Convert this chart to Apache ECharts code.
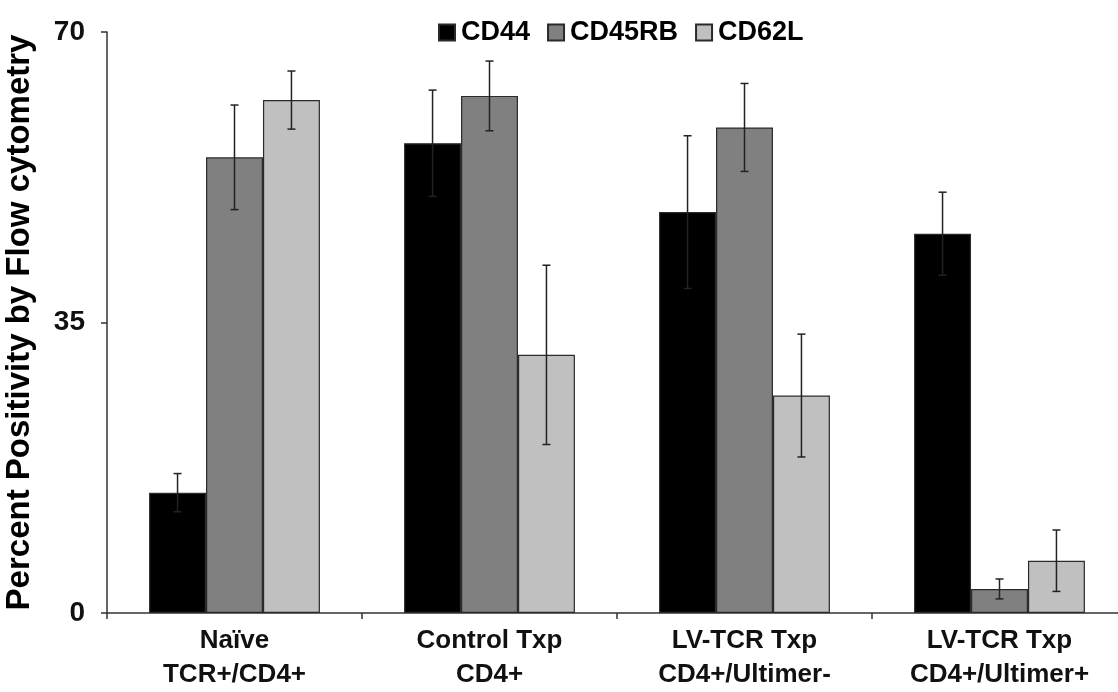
<!DOCTYPE html>
<html>
<head>
<meta charset="utf-8">
<script src="https://cdn.jsdelivr.net/npm/echarts@6/dist/echarts.min.js"></script>
<style>
html,body{margin:0;padding:0;background:#fff;}
#c{width:1118px;height:692px;}
</style>
</head>
<body>
<div id="c"></div>
<script>
const categories = ['Naïve\nTCR+/CD4+', 'Control Txp\nCD4+', 'LV-TCR Txp\nCD4+/Ultimer-', 'LV-TCR Txp\nCD4+/Ultimer+'];
const seriesNames = ['CD44', 'CD45RB', 'CD62L'];
const cd44 = [14.5, 56.6, 48.3, 45.7];
const cd45rb = [54.9, 62.3, 58.5, 2.9];
const cd62l = [61.8, 31.1, 26.2, 6.3];
const cd44Err = [2.3, 6.4, 9.2, 5.0];
const cd45rbErr = [6.3, 4.2, 5.3, 1.2];
const cd62lErr = [3.5, 10.8, 7.4, 3.7];
const yTicks = [0, 35, 70];

const values = [cd44, cd45rb, cd62l];
const errs = [cd44Err, cd45rbErr, cd62lErr];
const colors = ['#000000', '#808080', '#c0c0c0'];
const FONT = '"Liberation Sans", Arial, sans-serif';
const catGap = 0.33;

const chart = echarts.init(document.getElementById('c'), null, {renderer: 'canvas'});

const barSeries = seriesNames.map((n, i) => ({
  name: n,
  type: 'bar',
  data: values[i],
  barGap: '0%',
  barCategoryGap: (catGap * 100) + '%',
  itemStyle: {color: colors[i], borderColor: '#2a2a2a', borderWidth: 1.2},
  z: 2
}));

const errSeries = seriesNames.map((n, i) => ({
  name: n + ' err',
  type: 'custom',
  z: 5,
  data: values[i].map((v, k) => [k, v, errs[i][k]]),
  encode: {x: 0, y: 1},
  renderItem: function (params, api) {
    const k = api.value(0), v = api.value(1), e = api.value(2);
    const band = api.size([1, 0])[0];
    const bw = band * (1 - catGap) / 3;
    const cx = api.coord([k, v])[0] + (i - 1) * bw;
    const yt = api.coord([k, v + e])[1];
    const yb = api.coord([k, v - e])[1];
    const cap = 4;
    const st = {stroke: '#222', lineWidth: 1.5};
    return {
      type: 'group',
      children: [
        {type: 'line', shape: {x1: cx, y1: yt, x2: cx, y2: yb}, style: st},
        {type: 'line', shape: {x1: cx - cap, y1: yt, x2: cx + cap, y2: yt}, style: st},
        {type: 'line', shape: {x1: cx - cap, y1: yb, x2: cx + cap, y2: yb}, style: st}
      ]
    };
  }
}));

chart.setOption({
  backgroundColor: '#fff',
  animation: false,
  grid: {left: 107, top: 32, width: 1020, height: 581, containLabel: false, outerBoundsMode: 'none'},
  legend: {
    data: seriesNames,
    left: 433,
    top: 14,
    itemWidth: 16,
    itemHeight: 16,
    itemGap: 17,
    icon: 'rect',
    textStyle: {fontFamily: FONT, fontSize: 27, fontWeight: 'bold', color: '#000', padding: [0, 0, 0, 1]}
  },
  xAxis: {
    type: 'category',
    data: categories,
    boundaryGap: true,
    axisLine: {lineStyle: {color: '#333', width: 1.5}},
    axisTick: {show: true, length: 6, lineStyle: {color: '#333', width: 1.5}},
    axisLabel: {fontFamily: FONT, fontSize: 26, fontWeight: 'bold', color: '#111', lineHeight: 34, margin: 11, interval: 0}
  },
  yAxis: {
    type: 'value',
    min: yTicks[0],
    max: yTicks[yTicks.length - 1],
    interval: yTicks[1] - yTicks[0],
    name: 'Percent Positivity by Flow cytometry',
    nameLocation: 'middle',
    nameGap: 71,
    nameTextStyle: {fontFamily: FONT, fontSize: 33, fontWeight: 'bold', color: '#000'},
    axisLine: {show: true, lineStyle: {color: '#333', width: 1.5}},
    axisTick: {show: true, length: 6, lineStyle: {color: '#333', width: 1.5}},
    axisLabel: {fontFamily: FONT, fontSize: 28, fontWeight: 'bold', color: '#111', margin: 22},
    splitLine: {show: false}
  },
  series: barSeries.concat(errSeries)
});
</script>
</body>
</html>
